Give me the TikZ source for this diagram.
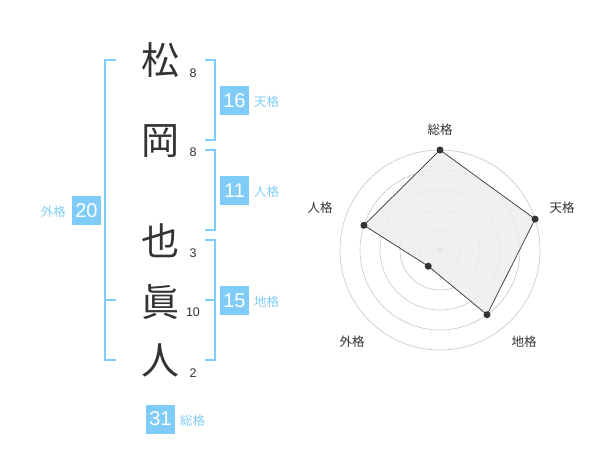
\documentclass[tikz,border=0pt]{standalone}
\usepackage{fontspec}
\setmainfont{Liberation Sans}
\newfontfamily\cjk{Noto Sans CJK JP}
\definecolor{kblue}{HTML}{80CCF8}
\definecolor{kdark}{HTML}{333333}
\begin{document}
\begin{tikzpicture}[x=1pt,y=-1pt,
  namechar/.style={font=\cjk\fontsize{38}{38}\selectfont, text=kdark, inner sep=0},
  strokes/.style={font=\fontsize{12.5}{12.5}\selectfont, text=kdark, inner sep=0},
  valbox/.style={fill=kblue, text=white, minimum width=29, minimum height=29, inner sep=0, font=\fontsize{20}{20}\selectfont},
  kaku/.style={font=\cjk\fontsize{12.5}{12.5}\selectfont, text=kblue, inner sep=0},
  brk/.style={draw=kblue, line width=2},
  ring/.style={draw=black!22, line width=0.6},
  axlab/.style={font=\cjk\fontsize{12.5}{12.5}\selectfont, text=kdark, inner sep=0},
  pt/.style={circle, fill=kdark, minimum size=7, inner sep=0}
]
\useasboundingbox (0,0) rectangle (600,470);
% name characters
\node[namechar] (c1) at (160,60) {松};
\node[namechar] (c2) at (160,141) {岡};
\node[namechar] (c3) at (160,241) {也};
\node[namechar] (c4) at (160,302) {眞};
\node[namechar] (c5) at (160,360) {人};
\node[strokes] (s1) at (193,73) {8};
\node[strokes] (s2) at (193,152) {8};
\node[strokes] (s3) at (193,253) {3};
\node[strokes] (s4) at (193,312) {10};
\node[strokes] (s5) at (193,373) {2};
% brackets
\draw[brk] (116,60) -- (105,60) -- (105,360) -- (116,360);
\draw[brk] (105,300) -- (116,300);
\draw[brk] (205,60) -- (215,60) -- (215,140) -- (205,140);
\draw[brk] (205,150) -- (215,150) -- (215,230) -- (205,230);
\draw[brk] (205,240) -- (215,240) -- (215,360) -- (205,360);
\draw[brk] (205,300) -- (215,300);
% value boxes
\node[valbox] (b20) at (86.5,211) {20};
\node[kaku, anchor=east] (l20) at (66,212) {外格};
\node[valbox] (b16) at (234.5,100.5) {16};
\node[kaku, anchor=west] (l16) at (254,102) {天格};
\node[valbox] (b11) at (234.5,190.5) {11};
\node[kaku, anchor=west] (l11) at (254,192) {人格};
\node[valbox] (b15) at (234.5,300.5) {15};
\node[kaku, anchor=west] (l15) at (254,302) {地格};
\node[valbox] (b31) at (160.5,419) {31};
\node[kaku, anchor=west] (l31) at (180,421) {総格};
% radar chart
\coordinate (o) at (440,250);
\foreach \r in {20,40,60,80,100} \draw[ring] (o) circle[radius=\r];
\fill[black!22] (o) circle[radius=3.5];
\path (o) ++(0,-100) coordinate (p1);
\path (o) ++({100*cos(18)},{-100*sin(18)}) coordinate (p2);
\path (o) ++({80*cos(-54)},{-80*sin(-54)}) coordinate (p3);
\path (o) ++({20*cos(-126)},{-20*sin(-126)}) coordinate (p4);
\path (o) ++({80*cos(162)},{-80*sin(162)}) coordinate (p5);
\draw[kdark, line width=0.7, fill=black!7, fill opacity=0.85] (p1) -- (p2) -- (p3) -- (p4) -- (p5) -- cycle;
\foreach \p in {p1,p2,p3,p4,p5} \node[pt] at (\p) {};
\node[axlab] (a1) at (440,130) {総格};
\node[axlab] (a2) at (562,208) {天格};
\node[axlab] (a3) at (524,342) {地格};
\node[axlab] (a4) at (352,342) {外格};
\node[axlab] (a5) at (320,208) {人格};
\end{tikzpicture}
\end{document}
